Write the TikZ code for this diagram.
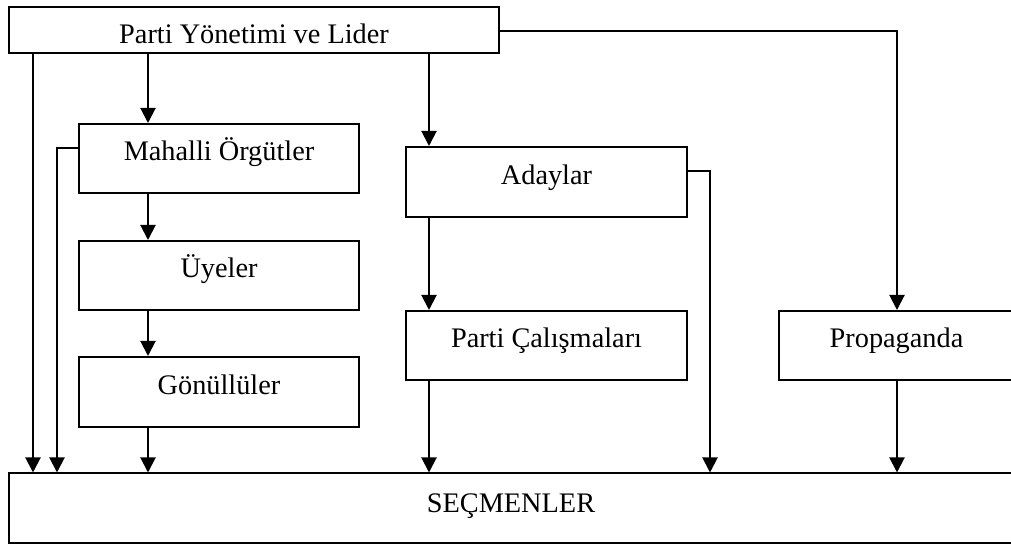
\documentclass[tikz,border=0pt]{standalone}
\usepackage{fontspec}
\setmainfont{Liberation Serif}
\usetikzlibrary{arrows.meta}
\begin{document}
\begin{tikzpicture}[x=0.5pt,y=-0.5pt,
  box/.style={draw,line width=1pt,rectangle,inner sep=0pt,
    font=\fontsize{14.15pt}{17pt}\selectfont,text height=9pt,text depth=6.5pt},
  arr/.style={line width=1pt,-{Triangle[length=7.5pt,width=7.5pt]}},
  ln/.style={line width=1pt}]
\useasboundingbox (0,0) rectangle (1011,544);
\clip (0,0) rectangle (1011,544);
\node[box,minimum width=245pt,minimum height=23pt,text height=18pt,text depth=4pt] (top) at (254,30) {Parti Yönetimi ve Lider};
\node[box,minimum width=140pt,minimum height=34.5pt] (mah) at (219,158.5) {Mahalli Örgütler};
\node[box,minimum width=140pt,minimum height=34.5pt] (uye) at (219,275.5) {Üyeler};
\node[box,minimum width=140pt,minimum height=35pt] (gon) at (219,392) {Gönüllüler};
\node[box,minimum width=140.5pt,minimum height=35pt] (ada) at (546.5,182) {Adaylar};
\node[box,minimum width=140.5pt,minimum height=34.5pt] (pc) at (546.5,345.5) {Parti Çalışmaları};
\node[box,minimum width=117.5pt,minimum height=34.5pt] (pro) at (896.5,345.5) {Propaganda};
\node[box,minimum width=502pt,minimum height=34.5pt,text height=9pt,text depth=5pt] (sec) at (511,508) {SEÇMENLER};
\coordinate (x33) at (33,0);
\coordinate (x148) at (148,0);
\coordinate (x429) at (429,0);
\coordinate (m1) at (57,148);
\coordinate (a1) at (710,171);
\coordinate (p1) at (897,31);
% left column
\draw[arr] (top.south -| x33) -- (sec.north -| x33);
\draw[arr] (top.south -| x148) -- (mah.north -| x148);
\draw[arr] (mah.west |- m1) -| (sec.north -| m1);
\draw[arr] (mah.south -| x148) -- (uye.north -| x148);
\draw[arr] (uye.south -| x148) -- (gon.north -| x148);
\draw[arr] (gon.south -| x148) -- (sec.north -| x148);
% middle column
\draw[arr] (top.south -| x429) -- (ada.north -| x429);
\draw[arr] (ada.south -| x429) -- (pc.north -| x429);
\draw[arr] (pc.south -| x429) -- (sec.north -| x429);
\draw[arr] (ada.east |- a1) -| (sec.north -| a1);
% right
\draw[arr] (top.east |- p1) -| (pro.north -| p1);
\draw[arr] (pro.south -| p1) -- (sec.north -| p1);
\end{tikzpicture}
\end{document}
